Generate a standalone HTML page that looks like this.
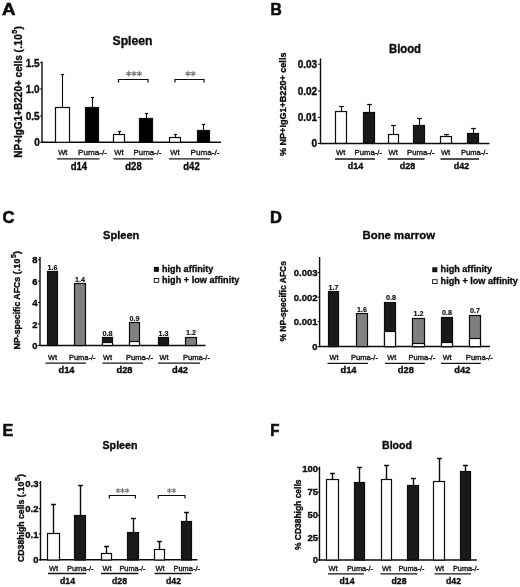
<!DOCTYPE html>
<html><head><meta charset="utf-8"><title>Figure</title>
<style>
html,body{margin:0;padding:0;background:#fff;}
svg{display:block;font-family:"Liberation Sans",sans-serif;filter:grayscale(1);}
</style></head><body>
<svg width="520" height="587" viewBox="0 0 520 587">
<rect x="0" y="0" width="520" height="587" fill="#ffffff"/>
<text x="2" y="15.3" font-size="16.9" text-anchor="start" font-weight="bold" fill="#0c0c0c" textLength="13.5" lengthAdjust="spacingAndGlyphs" stroke="#0c0c0c" stroke-width="0.6">A</text>
<text x="132.5" y="44.6" font-size="12.9" text-anchor="middle" font-weight="bold" fill="#0c0c0c" textLength="40" lengthAdjust="spacingAndGlyphs" stroke="#0c0c0c" stroke-width="0.35">Spleen</text>
<text transform="translate(21.7,91.9) rotate(-90)" font-size="10" text-anchor="middle" font-weight="bold" fill="#0c0c0c" stroke="#0c0c0c" stroke-width="0.35">NP+IgG1+B220+ cells <tspan letter-spacing="0.3">(.10</tspan><tspan font-size="7.3" dy="-5.1" dx="0.3">5</tspan><tspan dy="5.1" dx="0.2">)</tspan></text>
<line x1="42" y1="61.5" x2="42" y2="143.0" stroke="#0c0c0c" stroke-width="1.4"/>
<line x1="41.3" y1="142.3" x2="221" y2="142.3" stroke="#0c0c0c" stroke-width="1.5"/>
<line x1="40.1" y1="142.3" x2="42" y2="142.3" stroke="#0c0c0c" stroke-width="1"/>
<text x="39.7" y="146.15" font-size="10" text-anchor="end" font-weight="bold" fill="#0c0c0c" stroke="#0c0c0c" stroke-width="0.35">0</text>
<line x1="40.1" y1="116" x2="42" y2="116" stroke="#0c0c0c" stroke-width="1"/>
<text x="39.7" y="119.85" font-size="10" text-anchor="end" font-weight="bold" fill="#0c0c0c" stroke="#0c0c0c" stroke-width="0.35">0.5</text>
<line x1="40.1" y1="89" x2="42" y2="89" stroke="#0c0c0c" stroke-width="1"/>
<text x="39.7" y="92.85" font-size="10" text-anchor="end" font-weight="bold" fill="#0c0c0c" stroke="#0c0c0c" stroke-width="0.35">1.0</text>
<line x1="40.1" y1="62.7" x2="42" y2="62.7" stroke="#0c0c0c" stroke-width="1"/>
<text x="39.7" y="66.55" font-size="10" text-anchor="end" font-weight="bold" fill="#0c0c0c" stroke="#0c0c0c" stroke-width="0.35">1.5</text>
<line x1="62.5" y1="74.0" x2="62.5" y2="107" stroke="#0c0c0c" stroke-width="1.1"/>
<line x1="60.9" y1="74.5" x2="64.1" y2="74.5" stroke="#0c0c0c" stroke-width="1.2000000000000002"/>
<rect x="55.5" y="107.5" width="14" height="34.80000000000001" fill="#fff" stroke="#0c0c0c" stroke-width="1.2"/>
<line x1="92.5" y1="97.0" x2="92.5" y2="107" stroke="#0c0c0c" stroke-width="1.1"/>
<line x1="90.9" y1="97.5" x2="94.1" y2="97.5" stroke="#0c0c0c" stroke-width="1.2000000000000002"/>
<rect x="85.5" y="107.5" width="13" height="34.80000000000001" fill="#000" stroke="#0c0c0c" stroke-width="1.2"/>
<line x1="119.5" y1="131.0" x2="119.5" y2="134" stroke="#0c0c0c" stroke-width="1.1"/>
<line x1="117.9" y1="131.5" x2="121.1" y2="131.5" stroke="#0c0c0c" stroke-width="1.2000000000000002"/>
<rect x="113.5" y="134.5" width="11" height="7.800000000000011" fill="#fff" stroke="#0c0c0c" stroke-width="1.2"/>
<line x1="146.5" y1="113.0" x2="146.5" y2="118" stroke="#0c0c0c" stroke-width="1.1"/>
<line x1="144.9" y1="113.5" x2="148.1" y2="113.5" stroke="#0c0c0c" stroke-width="1.2000000000000002"/>
<rect x="139.5" y="118.5" width="13" height="23.80000000000001" fill="#000" stroke="#0c0c0c" stroke-width="1.2"/>
<line x1="175.5" y1="134.0" x2="175.5" y2="137" stroke="#0c0c0c" stroke-width="1.1"/>
<line x1="173.9" y1="134.5" x2="177.1" y2="134.5" stroke="#0c0c0c" stroke-width="1.2000000000000002"/>
<rect x="169.5" y="137.5" width="11" height="4.800000000000011" fill="#fff" stroke="#0c0c0c" stroke-width="1.2"/>
<line x1="203.5" y1="124.0" x2="203.5" y2="130" stroke="#0c0c0c" stroke-width="1.1"/>
<line x1="201.9" y1="124.5" x2="205.1" y2="124.5" stroke="#0c0c0c" stroke-width="1.2000000000000002"/>
<rect x="197.5" y="130.5" width="12" height="11.800000000000011" fill="#000" stroke="#0c0c0c" stroke-width="1.2"/>
<text x="62.8" y="155.3" font-size="8" text-anchor="middle" font-weight="normal" fill="#1c1c1c" textLength="9.3" lengthAdjust="spacingAndGlyphs" stroke="#1c1c1c" stroke-width="0.4">Wt</text>
<text x="78" y="155.3" font-size="8" text-anchor="start" font-weight="normal" fill="#1c1c1c" textLength="29" lengthAdjust="spacingAndGlyphs" stroke="#1c1c1c" stroke-width="0.4">Puma-/-</text>
<line x1="57" y1="158.8" x2="99.5" y2="158.8" stroke="#151515" stroke-width="1.3"/>
<text x="78.8" y="170" font-size="10.5" text-anchor="middle" font-weight="bold" fill="#0c0c0c" textLength="16.3" lengthAdjust="spacingAndGlyphs" stroke="#0c0c0c" stroke-width="0.35">d14</text>
<text x="119" y="155.3" font-size="8" text-anchor="middle" font-weight="normal" fill="#1c1c1c" textLength="9.3" lengthAdjust="spacingAndGlyphs" stroke="#1c1c1c" stroke-width="0.4">Wt</text>
<text x="133.5" y="155.3" font-size="8" text-anchor="start" font-weight="normal" fill="#1c1c1c" textLength="28.0" lengthAdjust="spacingAndGlyphs" stroke="#1c1c1c" stroke-width="0.4">Puma-/-</text>
<line x1="113.5" y1="158.8" x2="153" y2="158.8" stroke="#151515" stroke-width="1.3"/>
<text x="133.5" y="170" font-size="10.5" text-anchor="middle" font-weight="bold" fill="#0c0c0c" textLength="16.3" lengthAdjust="spacingAndGlyphs" stroke="#0c0c0c" stroke-width="0.35">d28</text>
<text x="175" y="155.3" font-size="8" text-anchor="middle" font-weight="normal" fill="#1c1c1c" textLength="9.3" lengthAdjust="spacingAndGlyphs" stroke="#1c1c1c" stroke-width="0.4">Wt</text>
<text x="190.5" y="155.3" font-size="8" text-anchor="start" font-weight="normal" fill="#1c1c1c" textLength="29.0" lengthAdjust="spacingAndGlyphs" stroke="#1c1c1c" stroke-width="0.4">Puma-/-</text>
<line x1="169" y1="158.8" x2="210" y2="158.8" stroke="#151515" stroke-width="1.3"/>
<text x="191.5" y="170" font-size="10.5" text-anchor="middle" font-weight="bold" fill="#0c0c0c" textLength="16.3" lengthAdjust="spacingAndGlyphs" stroke="#0c0c0c" stroke-width="0.35">d42</text>
<path d="M118.5 82.4V79.5H148V82.4" fill="none" stroke="#0c0c0c" stroke-width="1.2"/>
<path d="M128.65 71.25L128.65 75.95M126.61 72.42L130.69 74.77M130.69 72.42L126.61 74.77M134.00 71.25L134.00 75.95M131.96 72.42L136.04 74.77M136.04 72.42L131.96 74.77M139.35 71.25L139.35 75.95M137.31 72.42L141.39 74.77M141.39 72.42L137.31 74.77" fill="none" stroke="#767676" stroke-width="1.08" stroke-linecap="round"/>
<path d="M175 82.4V79.5H204V82.4" fill="none" stroke="#0c0c0c" stroke-width="1.2"/>
<path d="M187.82 71.25L187.82 75.95M185.79 72.42L189.86 74.77M189.86 72.42L185.79 74.77M193.18 71.25L193.18 75.95M191.14 72.42L195.21 74.77M195.21 72.42L191.14 74.77" fill="none" stroke="#767676" stroke-width="1.08" stroke-linecap="round"/>
<text x="270.5" y="15.3" font-size="16.9" text-anchor="start" font-weight="bold" fill="#0c0c0c" textLength="11.3" lengthAdjust="spacingAndGlyphs" stroke="#0c0c0c" stroke-width="0.6">B</text>
<text x="405" y="52.5" font-size="12" text-anchor="middle" font-weight="bold" fill="#0c0c0c" textLength="32" lengthAdjust="spacingAndGlyphs" stroke="#0c0c0c" stroke-width="0.35">Blood</text>
<text transform="translate(286.3,104.3) rotate(-90)" font-size="9.1" text-anchor="middle" font-weight="bold" fill="#0c0c0c" stroke="#0c0c0c" stroke-width="0.35" textLength="103.5" lengthAdjust="spacingAndGlyphs">% NP+IgG1+B220+ cells</text>
<line x1="320.5" y1="58.5" x2="320.5" y2="144.2" stroke="#0c0c0c" stroke-width="1.4"/>
<line x1="319.8" y1="143.5" x2="489.5" y2="143.5" stroke="#0c0c0c" stroke-width="1.5"/>
<line x1="317.8" y1="143.5" x2="320.5" y2="143.5" stroke="#0c0c0c" stroke-width="1"/>
<text x="317.1" y="147.35" font-size="10" text-anchor="end" font-weight="bold" fill="#0c0c0c" stroke="#0c0c0c" stroke-width="0.35">0</text>
<line x1="317.8" y1="117.3" x2="320.5" y2="117.3" stroke="#0c0c0c" stroke-width="1"/>
<text x="317.1" y="121.14999999999999" font-size="10" text-anchor="end" font-weight="bold" fill="#0c0c0c" stroke="#0c0c0c" stroke-width="0.35">0.01</text>
<line x1="317.8" y1="91" x2="320.5" y2="91" stroke="#0c0c0c" stroke-width="1"/>
<text x="317.1" y="94.85" font-size="10" text-anchor="end" font-weight="bold" fill="#0c0c0c" stroke="#0c0c0c" stroke-width="0.35">0.02</text>
<line x1="317.8" y1="64.2" x2="320.5" y2="64.2" stroke="#0c0c0c" stroke-width="1"/>
<text x="317.1" y="68.05" font-size="10" text-anchor="end" font-weight="bold" fill="#0c0c0c" stroke="#0c0c0c" stroke-width="0.35">0.03</text>
<line x1="341.5" y1="106.0" x2="341.5" y2="111" stroke="#0c0c0c" stroke-width="1.1"/>
<line x1="339.1" y1="106.5" x2="343.9" y2="106.5" stroke="#0c0c0c" stroke-width="1.2000000000000002"/>
<rect x="335.5" y="111.5" width="11" height="31.80000000000001" fill="#fff" stroke="#0c0c0c" stroke-width="1.2"/>
<line x1="369.5" y1="104.0" x2="369.5" y2="112" stroke="#0c0c0c" stroke-width="1.1"/>
<line x1="367.1" y1="104.5" x2="371.9" y2="104.5" stroke="#0c0c0c" stroke-width="1.2000000000000002"/>
<rect x="363.5" y="112.5" width="11" height="30.80000000000001" fill="#1a1a1a" stroke="#0c0c0c" stroke-width="1.2"/>
<line x1="393.5" y1="125.0" x2="393.5" y2="134" stroke="#0c0c0c" stroke-width="1.1"/>
<line x1="391.1" y1="125.5" x2="395.9" y2="125.5" stroke="#0c0c0c" stroke-width="1.2000000000000002"/>
<rect x="388.5" y="134.5" width="10" height="8.800000000000011" fill="#fff" stroke="#0c0c0c" stroke-width="1.2"/>
<line x1="419.5" y1="118.0" x2="419.5" y2="125" stroke="#0c0c0c" stroke-width="1.1"/>
<line x1="417.1" y1="118.5" x2="421.9" y2="118.5" stroke="#0c0c0c" stroke-width="1.2000000000000002"/>
<rect x="413.5" y="125.5" width="11" height="17.80000000000001" fill="#1a1a1a" stroke="#0c0c0c" stroke-width="1.2"/>
<line x1="446.5" y1="134.0" x2="446.5" y2="136" stroke="#0c0c0c" stroke-width="1.1"/>
<line x1="444.1" y1="134.5" x2="448.9" y2="134.5" stroke="#0c0c0c" stroke-width="1.2000000000000002"/>
<rect x="440.5" y="136.5" width="11" height="6.800000000000011" fill="#fff" stroke="#0c0c0c" stroke-width="1.2"/>
<line x1="473.5" y1="128.0" x2="473.5" y2="133" stroke="#0c0c0c" stroke-width="1.1"/>
<line x1="471.1" y1="128.5" x2="475.9" y2="128.5" stroke="#0c0c0c" stroke-width="1.2000000000000002"/>
<rect x="467.5" y="133.5" width="11" height="9.800000000000011" fill="#1a1a1a" stroke="#0c0c0c" stroke-width="1.2"/>
<text x="340.7" y="155" font-size="7.6" text-anchor="middle" font-weight="normal" fill="#1c1c1c" stroke="#1c1c1c" stroke-width="0.4">Wt</text>
<text x="354.5" y="155" font-size="7.6" text-anchor="start" font-weight="normal" fill="#1c1c1c" textLength="27.5" lengthAdjust="spacingAndGlyphs" stroke="#1c1c1c" stroke-width="0.4">Puma-/-</text>
<line x1="335" y1="159" x2="375" y2="159" stroke="#151515" stroke-width="1.3"/>
<text x="355.5" y="169" font-size="9.8" text-anchor="middle" font-weight="bold" fill="#0c0c0c" textLength="15.4" lengthAdjust="spacingAndGlyphs" stroke="#0c0c0c" stroke-width="0.35">d14</text>
<text x="393.2" y="155" font-size="7.6" text-anchor="middle" font-weight="normal" fill="#1c1c1c" stroke="#1c1c1c" stroke-width="0.4">Wt</text>
<text x="407" y="155" font-size="7.6" text-anchor="start" font-weight="normal" fill="#1c1c1c" textLength="27.5" lengthAdjust="spacingAndGlyphs" stroke="#1c1c1c" stroke-width="0.4">Puma-/-</text>
<line x1="387.5" y1="159" x2="424.5" y2="159" stroke="#151515" stroke-width="1.3"/>
<text x="407.5" y="169" font-size="9.8" text-anchor="middle" font-weight="bold" fill="#0c0c0c" textLength="15.4" lengthAdjust="spacingAndGlyphs" stroke="#0c0c0c" stroke-width="0.35">d28</text>
<text x="445.6" y="155" font-size="7.6" text-anchor="middle" font-weight="normal" fill="#1c1c1c" stroke="#1c1c1c" stroke-width="0.4">Wt</text>
<text x="461" y="155" font-size="7.6" text-anchor="start" font-weight="normal" fill="#1c1c1c" textLength="27" lengthAdjust="spacingAndGlyphs" stroke="#1c1c1c" stroke-width="0.4">Puma-/-</text>
<line x1="440.5" y1="159" x2="479" y2="159" stroke="#151515" stroke-width="1.3"/>
<text x="461.5" y="169" font-size="9.8" text-anchor="middle" font-weight="bold" fill="#0c0c0c" textLength="15.4" lengthAdjust="spacingAndGlyphs" stroke="#0c0c0c" stroke-width="0.35">d42</text>
<text x="2.5" y="222.8" font-size="16.9" text-anchor="start" font-weight="bold" fill="#0c0c0c" textLength="11.9" lengthAdjust="spacingAndGlyphs" stroke="#0c0c0c" stroke-width="0.6">C</text>
<text x="121.2" y="239.2" font-size="11.5" text-anchor="middle" font-weight="bold" fill="#0c0c0c" textLength="36.4" lengthAdjust="spacingAndGlyphs" stroke="#0c0c0c" stroke-width="0.35">Spleen</text>
<text transform="translate(19.6,300.2) rotate(-90)" font-size="8.75" text-anchor="middle" font-weight="bold" fill="#0c0c0c" stroke="#0c0c0c" stroke-width="0.35">NP-specific AFCs <tspan letter-spacing="0.25">(.10</tspan><tspan font-size="6.9" dy="-4.1" dx="0.3">5</tspan><tspan dy="4.1" dx="0.2">)</tspan></text>
<line x1="40" y1="257" x2="40" y2="346.09999999999997" stroke="#0c0c0c" stroke-width="1.4"/>
<line x1="39.3" y1="345.4" x2="205.5" y2="345.4" stroke="#0c0c0c" stroke-width="1.5"/>
<line x1="38" y1="345.4" x2="40" y2="345.4" stroke="#0c0c0c" stroke-width="1"/>
<text x="37.6" y="349.0575" font-size="9.5" text-anchor="end" font-weight="bold" fill="#0c0c0c" stroke="#0c0c0c" stroke-width="0.35">0</text>
<line x1="38" y1="323.9" x2="40" y2="323.9" stroke="#0c0c0c" stroke-width="1"/>
<text x="37.6" y="327.5575" font-size="9.5" text-anchor="end" font-weight="bold" fill="#0c0c0c" stroke="#0c0c0c" stroke-width="0.35">2</text>
<line x1="38" y1="302.5" x2="40" y2="302.5" stroke="#0c0c0c" stroke-width="1"/>
<text x="37.6" y="306.1575" font-size="9.5" text-anchor="end" font-weight="bold" fill="#0c0c0c" stroke="#0c0c0c" stroke-width="0.35">4</text>
<line x1="38" y1="281.1" x2="40" y2="281.1" stroke="#0c0c0c" stroke-width="1"/>
<text x="37.6" y="284.75750000000005" font-size="9.5" text-anchor="end" font-weight="bold" fill="#0c0c0c" stroke="#0c0c0c" stroke-width="0.35">6</text>
<line x1="38" y1="259.7" x2="40" y2="259.7" stroke="#0c0c0c" stroke-width="1"/>
<text x="37.6" y="263.3575" font-size="9.5" text-anchor="end" font-weight="bold" fill="#0c0c0c" stroke="#0c0c0c" stroke-width="0.35">8</text>
<rect x="47.5" y="271.5" width="10" height="74.0" fill="#1a1a1a" stroke="#0c0c0c" stroke-width="1.2"/>
<text x="52.5" y="269.5" font-size="7.6" text-anchor="middle" font-weight="bold" fill="#0c0c0c" textLength="10" lengthAdjust="spacingAndGlyphs" stroke="#0c0c0c" stroke-width="0.15">1.6</text>
<rect x="74.5" y="283.5" width="11" height="62.0" fill="#808080" stroke="#0c0c0c" stroke-width="1.2"/>
<text x="80.0" y="281.5" font-size="7.6" text-anchor="middle" font-weight="bold" fill="#0c0c0c" textLength="10" lengthAdjust="spacingAndGlyphs" stroke="#0c0c0c" stroke-width="0.15">1.4</text>
<rect x="102.5" y="337.5" width="10" height="8.0" fill="#1a1a1a" stroke="#0c0c0c" stroke-width="1.2"/>
<rect x="102.5" y="342.5" width="10" height="3.0" fill="#fff" stroke="#0c0c0c" stroke-width="1.2"/>
<text x="107.5" y="335.6" font-size="7.6" text-anchor="middle" font-weight="bold" fill="#0c0c0c" textLength="10" lengthAdjust="spacingAndGlyphs" stroke="#0c0c0c" stroke-width="0.15">0.8</text>
<rect x="129.5" y="322.5" width="10" height="23.0" fill="#808080" stroke="#0c0c0c" stroke-width="1.2"/>
<rect x="129.5" y="341.5" width="10" height="4.0" fill="#fff" stroke="#0c0c0c" stroke-width="1.2"/>
<text x="134.5" y="320.6" font-size="7.6" text-anchor="middle" font-weight="bold" fill="#0c0c0c" textLength="10" lengthAdjust="spacingAndGlyphs" stroke="#0c0c0c" stroke-width="0.15">0.9</text>
<rect x="158.5" y="337.5" width="10" height="8.0" fill="#1a1a1a" stroke="#0c0c0c" stroke-width="1.2"/>
<text x="163.5" y="335.8" font-size="7.6" text-anchor="middle" font-weight="bold" fill="#0c0c0c" textLength="10" lengthAdjust="spacingAndGlyphs" stroke="#0c0c0c" stroke-width="0.15">1.3</text>
<rect x="185.5" y="337.5" width="11" height="8.0" fill="#808080" stroke="#0c0c0c" stroke-width="1.2"/>
<text x="191.0" y="334.8" font-size="7.6" text-anchor="middle" font-weight="bold" fill="#0c0c0c" textLength="10" lengthAdjust="spacingAndGlyphs" stroke="#0c0c0c" stroke-width="0.15">1.2</text>
<text x="52.5" y="360.3" font-size="7.3" text-anchor="middle" font-weight="normal" fill="#1c1c1c" stroke="#1c1c1c" stroke-width="0.4">Wt</text>
<text x="69" y="360.3" font-size="7.3" text-anchor="start" font-weight="normal" fill="#1c1c1c" textLength="26.5" lengthAdjust="spacingAndGlyphs" stroke="#1c1c1c" stroke-width="0.4">Puma-/-</text>
<line x1="45.5" y1="363.1" x2="86" y2="363.1" stroke="#151515" stroke-width="1.3"/>
<text x="66.5" y="373" font-size="9.3" text-anchor="middle" font-weight="bold" fill="#0c0c0c" stroke="#0c0c0c" stroke-width="0.35">d14</text>
<text x="107.5" y="360.3" font-size="7.3" text-anchor="middle" font-weight="normal" fill="#1c1c1c" stroke="#1c1c1c" stroke-width="0.4">Wt</text>
<text x="126" y="360.3" font-size="7.3" text-anchor="start" font-weight="normal" fill="#1c1c1c" textLength="27" lengthAdjust="spacingAndGlyphs" stroke="#1c1c1c" stroke-width="0.4">Puma-/-</text>
<line x1="102.5" y1="363.1" x2="143" y2="363.1" stroke="#151515" stroke-width="1.3"/>
<text x="124.5" y="373" font-size="9.3" text-anchor="middle" font-weight="bold" fill="#0c0c0c" stroke="#0c0c0c" stroke-width="0.35">d28</text>
<text x="164" y="360.3" font-size="7.3" text-anchor="middle" font-weight="normal" fill="#1c1c1c" stroke="#1c1c1c" stroke-width="0.4">Wt</text>
<text x="183" y="360.3" font-size="7.3" text-anchor="start" font-weight="normal" fill="#1c1c1c" textLength="27" lengthAdjust="spacingAndGlyphs" stroke="#1c1c1c" stroke-width="0.4">Puma-/-</text>
<line x1="158" y1="363.1" x2="200" y2="363.1" stroke="#151515" stroke-width="1.3"/>
<text x="180" y="373" font-size="9.3" text-anchor="middle" font-weight="bold" fill="#0c0c0c" stroke="#0c0c0c" stroke-width="0.35">d42</text>
<rect x="154.5" y="267.5" width="3.8" height="3.7" fill="#1a1a1a" stroke="#0c0c0c" stroke-width="1.2"/>
<text x="162" y="271.70000000000005" font-size="9.5" text-anchor="start" font-weight="bold" fill="#0c0c0c" textLength="51.3" lengthAdjust="spacingAndGlyphs" stroke="#0c0c0c" stroke-width="0.35">high affinity</text>
<rect x="154.2" y="278.5" width="4.5" height="3.8" fill="#fff" stroke="#0c0c0c" stroke-width="0.9"/>
<text x="162" y="283.2" font-size="9.5" text-anchor="start" font-weight="bold" fill="#0c0c0c" textLength="77.3" lengthAdjust="spacingAndGlyphs" stroke="#0c0c0c" stroke-width="0.35">high + low affinity</text>
<text x="270" y="222.8" font-size="16.9" text-anchor="start" font-weight="bold" fill="#0c0c0c" textLength="11.9" lengthAdjust="spacingAndGlyphs" stroke="#0c0c0c" stroke-width="0.6">D</text>
<text x="398.8" y="239" font-size="11.5" text-anchor="middle" font-weight="bold" fill="#0c0c0c" textLength="72.5" lengthAdjust="spacingAndGlyphs" stroke="#0c0c0c" stroke-width="0.35">Bone marrow</text>
<text transform="translate(286.2,301.3) rotate(-90)" font-size="8.9" text-anchor="middle" font-weight="bold" fill="#0c0c0c" stroke="#0c0c0c" stroke-width="0.35" textLength="80.6" lengthAdjust="spacingAndGlyphs">% NP-specific AFCs</text>
<line x1="319.6" y1="257" x2="319.6" y2="347.3" stroke="#0c0c0c" stroke-width="1.4"/>
<line x1="318.90000000000003" y1="346.6" x2="490" y2="346.6" stroke="#0c0c0c" stroke-width="1.5"/>
<line x1="317.6" y1="346.6" x2="319.6" y2="346.6" stroke="#0c0c0c" stroke-width="1"/>
<text x="317.6" y="350.25750000000005" font-size="9.5" text-anchor="end" font-weight="bold" fill="#0c0c0c" stroke="#0c0c0c" stroke-width="0.35">0</text>
<line x1="317.6" y1="321.6" x2="319.6" y2="321.6" stroke="#0c0c0c" stroke-width="1"/>
<text x="317.6" y="325.25750000000005" font-size="9.5" text-anchor="end" font-weight="bold" fill="#0c0c0c" stroke="#0c0c0c" stroke-width="0.35">0.001</text>
<line x1="317.6" y1="297.1" x2="319.6" y2="297.1" stroke="#0c0c0c" stroke-width="1"/>
<text x="317.6" y="300.75750000000005" font-size="9.5" text-anchor="end" font-weight="bold" fill="#0c0c0c" stroke="#0c0c0c" stroke-width="0.35">0.002</text>
<line x1="317.6" y1="272.6" x2="319.6" y2="272.6" stroke="#0c0c0c" stroke-width="1"/>
<text x="317.6" y="276.25750000000005" font-size="9.5" text-anchor="end" font-weight="bold" fill="#0c0c0c" stroke="#0c0c0c" stroke-width="0.35">0.003</text>
<rect x="328.5" y="291.5" width="10" height="55.10000000000002" fill="#1a1a1a" stroke="#0c0c0c" stroke-width="1.2"/>
<text x="333.5" y="289.5" font-size="7.6" text-anchor="middle" font-weight="bold" fill="#0c0c0c" textLength="10" lengthAdjust="spacingAndGlyphs" stroke="#0c0c0c" stroke-width="0.15">1.7</text>
<rect x="356.5" y="313.5" width="11" height="33.10000000000002" fill="#808080" stroke="#0c0c0c" stroke-width="1.2"/>
<text x="362.0" y="311.5" font-size="7.6" text-anchor="middle" font-weight="bold" fill="#0c0c0c" textLength="10" lengthAdjust="spacingAndGlyphs" stroke="#0c0c0c" stroke-width="0.15">1.6</text>
<rect x="384.5" y="302.5" width="11" height="44.10000000000002" fill="#1a1a1a" stroke="#0c0c0c" stroke-width="1.2"/>
<rect x="384.5" y="331.5" width="11" height="15.100000000000023" fill="#fff" stroke="#0c0c0c" stroke-width="1.2"/>
<text x="391" y="300.2" font-size="7.6" text-anchor="middle" font-weight="bold" fill="#0c0c0c" textLength="10" lengthAdjust="spacingAndGlyphs" stroke="#0c0c0c" stroke-width="0.15">0.8</text>
<rect x="412.5" y="318.5" width="12" height="28.100000000000023" fill="#808080" stroke="#0c0c0c" stroke-width="1.2"/>
<rect x="412.5" y="343.5" width="12" height="3.1000000000000227" fill="#fff" stroke="#0c0c0c" stroke-width="1.2"/>
<text x="418.5" y="315.8" font-size="7.6" text-anchor="middle" font-weight="bold" fill="#0c0c0c" textLength="10" lengthAdjust="spacingAndGlyphs" stroke="#0c0c0c" stroke-width="0.15">1.2</text>
<rect x="441.5" y="317.5" width="11" height="29.100000000000023" fill="#1a1a1a" stroke="#0c0c0c" stroke-width="1.2"/>
<rect x="441.5" y="342.5" width="11" height="4.100000000000023" fill="#fff" stroke="#0c0c0c" stroke-width="1.2"/>
<text x="447.0" y="315" font-size="7.6" text-anchor="middle" font-weight="bold" fill="#0c0c0c" textLength="10" lengthAdjust="spacingAndGlyphs" stroke="#0c0c0c" stroke-width="0.15">0.8</text>
<rect x="469.5" y="315.5" width="11" height="31.100000000000023" fill="#808080" stroke="#0c0c0c" stroke-width="1.2"/>
<rect x="469.5" y="338.5" width="11" height="8.100000000000023" fill="#fff" stroke="#0c0c0c" stroke-width="1.2"/>
<text x="475.0" y="312.6" font-size="7.6" text-anchor="middle" font-weight="bold" fill="#0c0c0c" textLength="10" lengthAdjust="spacingAndGlyphs" stroke="#0c0c0c" stroke-width="0.15">0.7</text>
<text x="334" y="360.3" font-size="7.3" text-anchor="middle" font-weight="normal" fill="#1c1c1c" stroke="#1c1c1c" stroke-width="0.4">Wt</text>
<text x="351" y="360.3" font-size="7.3" text-anchor="start" font-weight="normal" fill="#1c1c1c" textLength="27" lengthAdjust="spacingAndGlyphs" stroke="#1c1c1c" stroke-width="0.4">Puma-/-</text>
<line x1="327.5" y1="363.4" x2="368" y2="363.4" stroke="#151515" stroke-width="1.3"/>
<text x="348.5" y="373" font-size="9.3" text-anchor="middle" font-weight="bold" fill="#0c0c0c" stroke="#0c0c0c" stroke-width="0.35">d14</text>
<text x="391.8" y="360.3" font-size="7.3" text-anchor="middle" font-weight="normal" fill="#1c1c1c" stroke="#1c1c1c" stroke-width="0.4">Wt</text>
<text x="408.6" y="360.3" font-size="7.3" text-anchor="start" font-weight="normal" fill="#1c1c1c" textLength="26.6" lengthAdjust="spacingAndGlyphs" stroke="#1c1c1c" stroke-width="0.4">Puma-/-</text>
<line x1="385" y1="363.4" x2="424.8" y2="363.4" stroke="#151515" stroke-width="1.3"/>
<text x="405.8" y="373" font-size="9.3" text-anchor="middle" font-weight="bold" fill="#0c0c0c" stroke="#0c0c0c" stroke-width="0.35">d28</text>
<text x="447.2" y="360.3" font-size="7.3" text-anchor="middle" font-weight="normal" fill="#1c1c1c" stroke="#1c1c1c" stroke-width="0.4">Wt</text>
<text x="465.8" y="360.3" font-size="7.3" text-anchor="start" font-weight="normal" fill="#1c1c1c" textLength="27.1" lengthAdjust="spacingAndGlyphs" stroke="#1c1c1c" stroke-width="0.4">Puma-/-</text>
<line x1="441" y1="363.4" x2="480.8" y2="363.4" stroke="#151515" stroke-width="1.3"/>
<text x="462.3" y="373" font-size="9.3" text-anchor="middle" font-weight="bold" fill="#0c0c0c" stroke="#0c0c0c" stroke-width="0.35">d42</text>
<rect x="432.9" y="267.9" width="3.8" height="3.7" fill="#1a1a1a" stroke="#0c0c0c" stroke-width="1.2"/>
<text x="440.6" y="272.1" font-size="9.5" text-anchor="start" font-weight="bold" fill="#0c0c0c" textLength="51.5" lengthAdjust="spacingAndGlyphs" stroke="#0c0c0c" stroke-width="0.35">high affinity</text>
<rect x="432.59999999999997" y="279.7" width="4.5" height="3.8" fill="#fff" stroke="#0c0c0c" stroke-width="0.9"/>
<text x="440.6" y="284.4" font-size="9.5" text-anchor="start" font-weight="bold" fill="#0c0c0c" textLength="77.3" lengthAdjust="spacingAndGlyphs" stroke="#0c0c0c" stroke-width="0.35">high + low affinity</text>
<text x="2.6" y="436.3" font-size="16.9" text-anchor="start" font-weight="bold" fill="#0c0c0c" textLength="10.8" lengthAdjust="spacingAndGlyphs" stroke="#0c0c0c" stroke-width="0.6">E</text>
<text x="120" y="448.5" font-size="11" text-anchor="middle" font-weight="bold" fill="#0c0c0c" textLength="35" lengthAdjust="spacingAndGlyphs" stroke="#0c0c0c" stroke-width="0.35">Spleen</text>
<text transform="translate(23.9,518) rotate(-90)" font-size="8.7" text-anchor="middle" font-weight="bold" fill="#0c0c0c" stroke="#0c0c0c" stroke-width="0.35">CD38high cells <tspan letter-spacing="0.25">(.10</tspan><tspan font-size="6.9" dy="-4.1" dx="0.3">5</tspan><tspan dy="4.1" dx="0.2">)</tspan></text>
<line x1="40.5" y1="481" x2="40.5" y2="560.5" stroke="#0c0c0c" stroke-width="1.4"/>
<line x1="39.8" y1="559.8" x2="197.5" y2="559.8" stroke="#0c0c0c" stroke-width="1.5"/>
<line x1="38.9" y1="559.8" x2="40.5" y2="559.8" stroke="#0c0c0c" stroke-width="1"/>
<text x="38.5" y="563.4575" font-size="9.5" text-anchor="end" font-weight="bold" fill="#0c0c0c" stroke="#0c0c0c" stroke-width="0.35">0</text>
<line x1="38.9" y1="534" x2="40.5" y2="534" stroke="#0c0c0c" stroke-width="1"/>
<text x="38.5" y="537.6575" font-size="9.5" text-anchor="end" font-weight="bold" fill="#0c0c0c" stroke="#0c0c0c" stroke-width="0.35">0.1</text>
<line x1="38.9" y1="508.7" x2="40.5" y2="508.7" stroke="#0c0c0c" stroke-width="1"/>
<text x="38.5" y="512.3575" font-size="9.5" text-anchor="end" font-weight="bold" fill="#0c0c0c" stroke="#0c0c0c" stroke-width="0.35">0.2</text>
<line x1="38.9" y1="483.2" x2="40.5" y2="483.2" stroke="#0c0c0c" stroke-width="1"/>
<text x="38.5" y="486.8575" font-size="9.5" text-anchor="end" font-weight="bold" fill="#0c0c0c" stroke="#0c0c0c" stroke-width="0.35">0.3</text>
<line x1="53.5" y1="504.0" x2="53.5" y2="533" stroke="#0c0c0c" stroke-width="1.4"/>
<line x1="51.1" y1="504.5" x2="55.9" y2="504.5" stroke="#0c0c0c" stroke-width="1.5"/>
<rect x="47.5" y="533.5" width="12" height="26.5" fill="#fff" stroke="#0c0c0c" stroke-width="1.2"/>
<line x1="80.5" y1="485.0" x2="80.5" y2="515" stroke="#0c0c0c" stroke-width="1.4"/>
<line x1="78.1" y1="485.5" x2="82.9" y2="485.5" stroke="#0c0c0c" stroke-width="1.5"/>
<rect x="74.5" y="515.5" width="11" height="44.5" fill="#1a1a1a" stroke="#0c0c0c" stroke-width="1.2"/>
<line x1="106.5" y1="546.0" x2="106.5" y2="553" stroke="#0c0c0c" stroke-width="1.4"/>
<line x1="104.1" y1="546.5" x2="108.9" y2="546.5" stroke="#0c0c0c" stroke-width="1.5"/>
<rect x="101.5" y="553.5" width="10" height="6.5" fill="#fff" stroke="#0c0c0c" stroke-width="1.2"/>
<line x1="133.5" y1="518.0" x2="133.5" y2="532" stroke="#0c0c0c" stroke-width="1.4"/>
<line x1="131.1" y1="518.5" x2="135.9" y2="518.5" stroke="#0c0c0c" stroke-width="1.5"/>
<rect x="127.5" y="532.5" width="11" height="27.5" fill="#1a1a1a" stroke="#0c0c0c" stroke-width="1.2"/>
<line x1="159.5" y1="541.0" x2="159.5" y2="549" stroke="#0c0c0c" stroke-width="1.4"/>
<line x1="157.1" y1="541.5" x2="161.9" y2="541.5" stroke="#0c0c0c" stroke-width="1.5"/>
<rect x="154.5" y="549.5" width="10" height="10.5" fill="#fff" stroke="#0c0c0c" stroke-width="1.2"/>
<line x1="186.5" y1="512.0" x2="186.5" y2="521" stroke="#0c0c0c" stroke-width="1.4"/>
<line x1="184.1" y1="512.5" x2="188.9" y2="512.5" stroke="#0c0c0c" stroke-width="1.5"/>
<rect x="181.5" y="521.5" width="10" height="38.5" fill="#1a1a1a" stroke="#0c0c0c" stroke-width="1.2"/>
<text x="53.5" y="571" font-size="7.4" text-anchor="middle" font-weight="normal" fill="#1c1c1c" stroke="#1c1c1c" stroke-width="0.4">Wt</text>
<text x="67" y="571" font-size="7.4" text-anchor="start" font-weight="normal" fill="#1c1c1c" textLength="26.5" lengthAdjust="spacingAndGlyphs" stroke="#1c1c1c" stroke-width="0.4">Puma-/-</text>
<line x1="48" y1="573.5" x2="86" y2="573.5" stroke="#151515" stroke-width="1.3"/>
<text x="67.5" y="583.6" font-size="9.8" text-anchor="middle" font-weight="bold" fill="#0c0c0c" textLength="15" lengthAdjust="spacingAndGlyphs" stroke="#0c0c0c" stroke-width="0.35">d14</text>
<text x="107" y="571" font-size="7.4" text-anchor="middle" font-weight="normal" fill="#1c1c1c" stroke="#1c1c1c" stroke-width="0.4">Wt</text>
<text x="119.5" y="571" font-size="7.4" text-anchor="start" font-weight="normal" fill="#1c1c1c" textLength="26.0" lengthAdjust="spacingAndGlyphs" stroke="#1c1c1c" stroke-width="0.4">Puma-/-</text>
<line x1="101" y1="573.5" x2="138.5" y2="573.5" stroke="#151515" stroke-width="1.3"/>
<text x="119.5" y="583.6" font-size="9.8" text-anchor="middle" font-weight="bold" fill="#0c0c0c" textLength="15" lengthAdjust="spacingAndGlyphs" stroke="#0c0c0c" stroke-width="0.35">d28</text>
<text x="160" y="571" font-size="7.4" text-anchor="middle" font-weight="normal" fill="#1c1c1c" stroke="#1c1c1c" stroke-width="0.4">Wt</text>
<text x="173.5" y="571" font-size="7.4" text-anchor="start" font-weight="normal" fill="#1c1c1c" textLength="26.5" lengthAdjust="spacingAndGlyphs" stroke="#1c1c1c" stroke-width="0.4">Puma-/-</text>
<line x1="154.5" y1="573.5" x2="191.5" y2="573.5" stroke="#151515" stroke-width="1.3"/>
<text x="173.5" y="583.6" font-size="9.8" text-anchor="middle" font-weight="bold" fill="#0c0c0c" textLength="15" lengthAdjust="spacingAndGlyphs" stroke="#0c0c0c" stroke-width="0.35">d42</text>
<path d="M109.3 498.4V495.5H135.4V498.4" fill="none" stroke="#0c0c0c" stroke-width="1.2"/>
<path d="M117.90 488.60L117.90 492.60M116.17 489.60L119.63 491.60M119.63 489.60L116.17 491.60M122.50 488.60L122.50 492.60M120.77 489.60L124.23 491.60M124.23 489.60L120.77 491.60M127.10 488.60L127.10 492.60M125.37 489.60L128.83 491.60M128.83 489.60L125.37 491.60" fill="none" stroke="#767676" stroke-width="1.08" stroke-linecap="round"/>
<path d="M158.3 498.4V495.5H185V498.4" fill="none" stroke="#0c0c0c" stroke-width="1.2"/>
<path d="M169.30 488.60L169.30 492.60M167.57 489.60L171.03 491.60M171.03 489.60L167.57 491.60M173.90 488.60L173.90 492.60M172.17 489.60L175.63 491.60M175.63 489.60L172.17 491.60" fill="none" stroke="#767676" stroke-width="1.08" stroke-linecap="round"/>
<text x="270.2" y="436.3" font-size="16.9" text-anchor="start" font-weight="bold" fill="#0c0c0c" textLength="9.2" lengthAdjust="spacingAndGlyphs" stroke="#0c0c0c" stroke-width="0.6">F</text>
<text x="397" y="448.5" font-size="11" text-anchor="middle" font-weight="bold" fill="#0c0c0c" textLength="30" lengthAdjust="spacingAndGlyphs" stroke="#0c0c0c" stroke-width="0.35">Blood</text>
<text transform="translate(301,514.8) rotate(-90)" font-size="9.3" text-anchor="middle" font-weight="bold" fill="#0c0c0c" stroke="#0c0c0c" stroke-width="0.35" textLength="70.5" lengthAdjust="spacingAndGlyphs">% CD38high cells</text>
<line x1="319.5" y1="466.5" x2="319.5" y2="560.7" stroke="#0c0c0c" stroke-width="1.4"/>
<line x1="318.8" y1="560" x2="476.8" y2="560" stroke="#0c0c0c" stroke-width="1.5"/>
<line x1="317.7" y1="560" x2="319.5" y2="560" stroke="#0c0c0c" stroke-width="1"/>
<text x="318.0" y="563.135" font-size="9.5" text-anchor="end" font-weight="bold" fill="#0c0c0c" stroke="#0c0c0c" stroke-width="0.35">0</text>
<line x1="317.7" y1="538" x2="319.5" y2="538" stroke="#0c0c0c" stroke-width="1"/>
<text x="318.0" y="541.135" font-size="9.5" text-anchor="end" font-weight="bold" fill="#0c0c0c" stroke="#0c0c0c" stroke-width="0.35">25</text>
<line x1="317.7" y1="515.3" x2="319.5" y2="515.3" stroke="#0c0c0c" stroke-width="1"/>
<text x="318.0" y="518.435" font-size="9.5" text-anchor="end" font-weight="bold" fill="#0c0c0c" stroke="#0c0c0c" stroke-width="0.35">50</text>
<line x1="317.7" y1="492" x2="319.5" y2="492" stroke="#0c0c0c" stroke-width="1"/>
<text x="318.0" y="495.135" font-size="9.5" text-anchor="end" font-weight="bold" fill="#0c0c0c" stroke="#0c0c0c" stroke-width="0.35">75</text>
<line x1="317.7" y1="468.9" x2="319.5" y2="468.9" stroke="#0c0c0c" stroke-width="1"/>
<text x="318.0" y="472.03499999999997" font-size="9.5" text-anchor="end" font-weight="bold" fill="#0c0c0c" stroke="#0c0c0c" stroke-width="0.35">100</text>
<line x1="332.5" y1="473.0" x2="332.5" y2="479" stroke="#0c0c0c" stroke-width="1.4"/>
<line x1="330.1" y1="473.5" x2="334.9" y2="473.5" stroke="#0c0c0c" stroke-width="1.5"/>
<rect x="326.5" y="479.5" width="12" height="80.5" fill="#fff" stroke="#0c0c0c" stroke-width="1.2"/>
<line x1="359.5" y1="467.0" x2="359.5" y2="482" stroke="#0c0c0c" stroke-width="1.4"/>
<line x1="357.1" y1="467.5" x2="361.9" y2="467.5" stroke="#0c0c0c" stroke-width="1.5"/>
<rect x="354.5" y="482.5" width="10" height="77.5" fill="#1a1a1a" stroke="#0c0c0c" stroke-width="1.2"/>
<line x1="386.5" y1="465.0" x2="386.5" y2="479" stroke="#0c0c0c" stroke-width="1.4"/>
<line x1="384.1" y1="465.5" x2="388.9" y2="465.5" stroke="#0c0c0c" stroke-width="1.5"/>
<rect x="381.5" y="479.5" width="10" height="80.5" fill="#fff" stroke="#0c0c0c" stroke-width="1.2"/>
<line x1="413.5" y1="478.0" x2="413.5" y2="485" stroke="#0c0c0c" stroke-width="1.4"/>
<line x1="411.1" y1="478.5" x2="415.9" y2="478.5" stroke="#0c0c0c" stroke-width="1.5"/>
<rect x="407.5" y="485.5" width="11" height="74.5" fill="#1a1a1a" stroke="#0c0c0c" stroke-width="1.2"/>
<line x1="439.5" y1="458.0" x2="439.5" y2="481" stroke="#0c0c0c" stroke-width="1.4"/>
<line x1="437.1" y1="458.5" x2="441.9" y2="458.5" stroke="#0c0c0c" stroke-width="1.5"/>
<rect x="433.5" y="481.5" width="11" height="78.5" fill="#fff" stroke="#0c0c0c" stroke-width="1.2"/>
<line x1="465.5" y1="465.0" x2="465.5" y2="471" stroke="#0c0c0c" stroke-width="1.4"/>
<line x1="463.1" y1="465.5" x2="467.9" y2="465.5" stroke="#0c0c0c" stroke-width="1.5"/>
<rect x="460.5" y="471.5" width="10" height="88.5" fill="#1a1a1a" stroke="#0c0c0c" stroke-width="1.2"/>
<text x="333" y="571" font-size="7.4" text-anchor="middle" font-weight="normal" fill="#1c1c1c" stroke="#1c1c1c" stroke-width="0.4">Wt</text>
<text x="347" y="571" font-size="7.4" text-anchor="start" font-weight="normal" fill="#1c1c1c" textLength="26" lengthAdjust="spacingAndGlyphs" stroke="#1c1c1c" stroke-width="0.4">Puma-/-</text>
<line x1="328" y1="573.8" x2="364" y2="573.8" stroke="#151515" stroke-width="1.3"/>
<text x="347" y="583.6" font-size="9.8" text-anchor="middle" font-weight="bold" fill="#0c0c0c" textLength="15" lengthAdjust="spacingAndGlyphs" stroke="#0c0c0c" stroke-width="0.35">d14</text>
<text x="386.5" y="571" font-size="7.4" text-anchor="middle" font-weight="normal" fill="#1c1c1c" stroke="#1c1c1c" stroke-width="0.4">Wt</text>
<text x="398.5" y="571" font-size="7.4" text-anchor="start" font-weight="normal" fill="#1c1c1c" textLength="26.0" lengthAdjust="spacingAndGlyphs" stroke="#1c1c1c" stroke-width="0.4">Puma-/-</text>
<line x1="380.5" y1="573.8" x2="417.5" y2="573.8" stroke="#151515" stroke-width="1.3"/>
<text x="399" y="583.6" font-size="9.8" text-anchor="middle" font-weight="bold" fill="#0c0c0c" textLength="15" lengthAdjust="spacingAndGlyphs" stroke="#0c0c0c" stroke-width="0.35">d28</text>
<text x="439.5" y="571" font-size="7.4" text-anchor="middle" font-weight="normal" fill="#1c1c1c" stroke="#1c1c1c" stroke-width="0.4">Wt</text>
<text x="453" y="571" font-size="7.4" text-anchor="start" font-weight="normal" fill="#1c1c1c" textLength="26" lengthAdjust="spacingAndGlyphs" stroke="#1c1c1c" stroke-width="0.4">Puma-/-</text>
<line x1="434.5" y1="573.8" x2="471" y2="573.8" stroke="#151515" stroke-width="1.3"/>
<text x="453.5" y="583.6" font-size="9.8" text-anchor="middle" font-weight="bold" fill="#0c0c0c" textLength="15" lengthAdjust="spacingAndGlyphs" stroke="#0c0c0c" stroke-width="0.35">d42</text>
</svg>
</body></html>
